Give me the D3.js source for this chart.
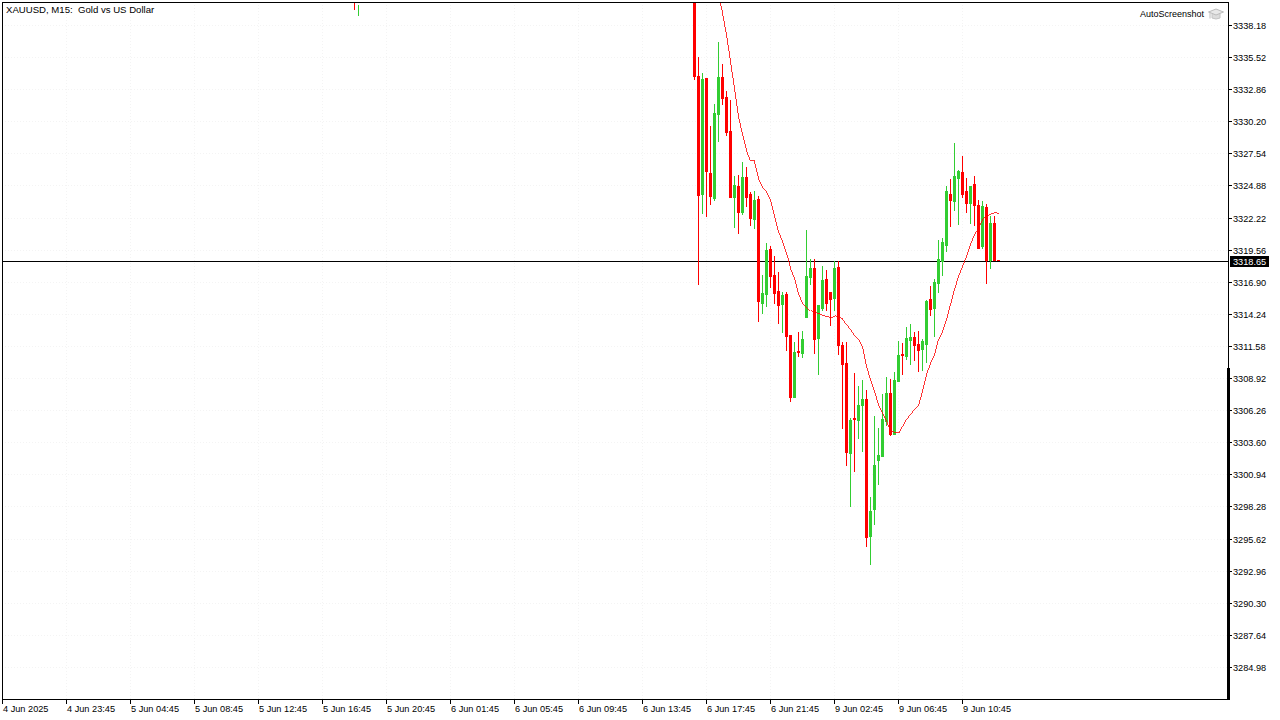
<!DOCTYPE html>
<html>
<head>
<meta charset="utf-8">
<script src="https://cdn.jsdelivr.net/npm/d3@7"></script>
<style>
  html, body { margin: 0; padding: 0; background: #fff; }
  text { font-family: "Liberation Sans", sans-serif; font-size: 9.2px; fill: #000; }
</style>
</head>
<body>
<div id="chart"></div>
<script>
const priceTicks = [3338.18, 3335.52, 3332.86, 3330.20, 3327.54, 3324.88, 3322.22, 3319.56, 3316.90, 3314.24, 3311.58,
    3308.92, 3306.26, 3303.60, 3300.94, 3298.28, 3295.62, 3292.96, 3290.30, 3287.64, 3284.98];

const timeLabels = ["4 Jun 2025", "4 Jun 23:45", "5 Jun 04:45", "5 Jun 08:45", "5 Jun 12:45", "5 Jun 16:45", "5 Jun 20:45",
    "6 Jun 01:45", "6 Jun 05:45", "6 Jun 09:45", "6 Jun 13:45", "6 Jun 17:45", "6 Jun 21:45", "9 Jun 02:45", "9 Jun 06:45", "9 Jun 10:45"];

const lastPrice = 3318.65;

// bar numbers, counted from the left edge of the window
const barIndex = [88, 89].concat(d3.range(173, 250));

const opens = [3341.00, 3339.00,
    3342.50, 3333.95, 3324.18, 3333.79, 3325.92, 3323.84, 3330.80, 3333.87, 3332.21, 3329.40,
    3323.93, 3324.84, 3322.68, 3325.58, 3324.18, 3322.10, 3323.76, 3315.14, 3315.89, 3319.62,
    3317.46, 3316.14, 3315.06, 3315.89, 3312.49, 3307.35, 3311.17, 3311.00, 3313.98, 3317.30,
    3318.04, 3312.24, 3314.73, 3317.13, 3316.05, 3315.56, 3318.13, 3311.66, 3310.17, 3302.72,
    3305.61, 3305.45, 3306.69, 3307.19, 3295.84, 3298.07, 3302.13, 3302.47, 3305.37, 3307.69,
    3304.29, 3308.68, 3310.92, 3310.75, 3312.08, 3312.33, 3311.75, 3311.33, 3311.75, 3315.48,
    3314.73, 3316.80, 3318.62, 3319.95, 3324.18, 3323.60, 3325.50, 3326.00, 3324.42, 3323.43,
    3325.00, 3323.26, 3319.87, 3323.10, 3318.71, 3321.77, 3318.71];

const highs = [3342.00, 3339.84,
    3343.00, 3335.53, 3334.20, 3333.79, 3329.81, 3331.63, 3336.77, 3334.95, 3332.71, 3331.96,
    3325.67, 3325.75, 3326.83, 3326.41, 3324.34, 3324.42, 3324.01, 3317.46, 3320.12, 3319.87,
    3319.04, 3317.71, 3316.05, 3316.05, 3312.49, 3311.91, 3312.74, 3312.82, 3321.19, 3318.79,
    3318.79, 3314.98, 3318.21, 3317.88, 3316.05, 3318.62, 3318.62, 3311.91, 3311.91, 3305.61,
    3309.34, 3308.27, 3308.76, 3307.93, 3299.07, 3305.78, 3304.79, 3307.60, 3309.01, 3308.85,
    3309.43, 3312.00, 3311.83, 3313.15, 3313.40, 3312.74, 3312.82, 3312.16, 3315.39, 3316.55,
    3317.13, 3320.36, 3320.53, 3324.84, 3325.42, 3328.40, 3326.16, 3327.32, 3325.50, 3324.84,
    3325.67, 3323.68, 3323.60, 3323.35, 3322.35, 3322.35, 3318.71];

const lows = [3339.50, 3339.00,
    3333.70, 3316.72, 3322.60, 3322.35, 3323.35, 3323.68, 3328.57, 3331.63, 3329.06, 3323.93,
    3321.44, 3320.94, 3322.52, 3323.18, 3321.61, 3321.36, 3313.65, 3314.32, 3314.89, 3316.47,
    3315.14, 3313.49, 3312.74, 3311.25, 3307.02, 3307.35, 3310.75, 3310.67, 3313.98, 3316.72,
    3311.00, 3309.26, 3314.56, 3314.56, 3313.32, 3314.56, 3310.92, 3304.79, 3301.72, 3298.32,
    3301.22, 3303.96, 3302.88, 3295.01, 3293.52, 3296.83, 3300.15, 3302.47, 3305.03, 3304.21,
    3304.29, 3308.68, 3309.26, 3310.50, 3310.09, 3310.42, 3309.51, 3309.59, 3310.25, 3314.15,
    3312.41, 3316.05, 3317.46, 3319.45, 3321.52, 3322.85, 3321.69, 3323.93, 3322.68, 3321.77,
    3321.61, 3319.70, 3319.70, 3316.80, 3318.04, 3318.71, 3318.71];

const closes = [3339.50, 3339.84,
    3333.95, 3324.09, 3333.70, 3326.08, 3324.01, 3330.89, 3333.87, 3332.13, 3329.31, 3323.93,
    3324.92, 3322.68, 3325.58, 3323.93, 3322.19, 3323.68, 3315.31, 3315.97, 3319.53, 3317.38,
    3315.97, 3314.98, 3315.81, 3312.41, 3307.35, 3311.08, 3311.08, 3312.16, 3317.38, 3318.04,
    3312.16, 3314.98, 3317.05, 3315.14, 3315.48, 3318.04, 3311.66, 3310.09, 3302.80, 3305.45,
    3305.53, 3306.69, 3307.19, 3295.75, 3297.91, 3301.72, 3302.55, 3305.53, 3307.69, 3304.29,
    3308.76, 3310.83, 3310.83, 3312.24, 3312.33, 3311.66, 3311.25, 3311.99, 3315.31, 3314.65,
    3316.88, 3318.79, 3320.20, 3324.42, 3323.68, 3325.67, 3326.08, 3324.18, 3323.43, 3324.84,
    3323.26, 3319.70, 3323.18, 3318.71, 3321.77, 3318.71, 3318.71];

// moving average, starts just above the top edge
const maStart = 179;
const maValues = [3340.58, 3339.26, 3337.52, 3335.28, 3333.04, 3330.72, 3329.23, 3327.90, 3326.99, 3326.99, 3325.58,
    3324.84, 3324.51, 3323.76, 3322.44, 3321.19, 3320.36, 3319.37, 3318.13, 3317.30, 3316.05,
    3315.23, 3314.89, 3314.56, 3314.40, 3314.32, 3314.15, 3314.07, 3313.98, 3314.15, 3313.98,
    3313.90, 3313.49, 3313.07, 3312.58, 3312.24, 3311.66, 3310.01, 3308.93, 3307.93, 3306.86,
    3306.11, 3305.53, 3304.62, 3304.46, 3304.46, 3305.03, 3305.61, 3306.03, 3306.44, 3306.78,
    3307.93, 3309.34, 3310.25, 3311.00, 3312.24, 3312.91, 3313.90, 3315.14, 3316.39, 3317.46,
    3318.29, 3319.12, 3320.11, 3320.94, 3321.44, 3322.19, 3322.44, 3322.60, 3322.68, 3322.60];

const width = 1280;
const height = 720;
const left = 2;
const right = 1228;
const top_ = 2;
const bottom = 699;
const upColor = "#32cd32";
const downColor = "#ff0000";
const gridColor = "#f4f4f4";

const y = d3.scaleLinear().domain([3284.98, 3338.18]).range([667, 25]);
const x = d3.scaleLinear().domain([0, 16]).range([2, 66]);
const py = v => Math.round(y(v));

const svg = d3.select("#chart").append("svg")
    .attr("width", width)
    .attr("height", height)
    .style("display", "block")
    .attr("shape-rendering", "crispEdges");

svg.append("defs").append("clipPath").attr("id", "plot")
    .append("rect")
    .attr("x", left).attr("y", top_)
    .attr("width", right - left).attr("height", bottom - top_);

// dotted grid
priceTicks.forEach(function(p) {
    svg.append("line")
        .attr("x1", left).attr("x2", right)
        .attr("y1", py(p) + 0.5).attr("y2", py(p) + 0.5)
        .attr("stroke", gridColor)
        .attr("stroke-dasharray", "1,2");
});
timeLabels.forEach(function(t, i) {
    if (i === 0) return;
    svg.append("line")
        .attr("x1", x(i * 16) + 0.5).attr("x2", x(i * 16) + 0.5)
        .attr("y1", top_).attr("y2", bottom)
        .attr("stroke", gridColor)
        .attr("stroke-dasharray", "1,2");
});

// last price line, goes under the candles
svg.append("line")
    .attr("x1", left).attr("x2", right)
    .attr("y1", py(lastPrice) + 0.5).attr("y2", py(lastPrice) + 0.5)
    .attr("stroke", "#000");

const plot = svg.append("g").attr("clip-path", "url(#plot)");

// wicks and bodies
barIndex.forEach(function(b, i) {
    const up = closes[i] > opens[i];
    const color = up ? upColor : downColor;
    const cx = x(b);
    plot.append("rect")
        .attr("x", cx)
        .attr("y", py(highs[i]))
        .attr("width", 1)
        .attr("height", py(lows[i]) - py(highs[i]) + 1)
        .attr("fill", color);
    if (i < 2) return; // only the wick shows for the two bars at the top edge
    const bodyTop = py(Math.max(opens[i], closes[i]));
    const bodyBottom = py(Math.min(opens[i], closes[i]));
    plot.append("rect")
        .attr("x", cx - 1)
        .attr("y", bodyTop)
        .attr("width", 3)
        .attr("height", bodyBottom - bodyTop + 1)
        .attr("fill", color);
});

// moving average
const maLine = d3.line()
    .x((d, i) => x(maStart + i) + 0.5)
    .y(d => py(d) + 0.5);

plot.append("path")
    .attr("d", maLine(maValues))
    .attr("fill", "none")
    .attr("stroke", downColor)
    .attr("stroke-width", 0.8);

// frame
svg.append("rect").attr("x", left).attr("y", top_).attr("width", 1).attr("height", bottom - top_).attr("fill", "#000");
svg.append("rect").attr("x", left).attr("y", top_).attr("width", right - left).attr("height", 1).attr("fill", "#000");
svg.append("rect").attr("x", left).attr("y", bottom).attr("width", right - left + 2).attr("height", 1).attr("fill", "#000");
svg.append("rect").attr("x", right).attr("y", top_).attr("width", 1).attr("height", bottom - top_ + 1).attr("fill", "#000");
svg.append("rect").attr("x", right - 1).attr("y", 368).attr("width", 3).attr("height", bottom - 368 + 1).attr("fill", "#000");

// price axis
priceTicks.forEach(function(p) {
    svg.append("rect")
        .attr("x", right + 1).attr("y", py(p)).attr("width", 3).attr("height", 1).attr("fill", "#000");
    svg.append("text")
        .attr("x", 1233)
        .attr("y", py(p) + 3.5)
        .text(p.toFixed(2));
});

// last price tag
svg.append("rect")
    .attr("x", 1230).attr("y", py(lastPrice) - 5)
    .attr("width", 39).attr("height", 11)
    .attr("fill", "#000");
svg.append("text")
    .attr("x", 1233)
    .attr("y", py(lastPrice) + 4)
    .style("fill", "#fff")
    .text(lastPrice.toFixed(2));

// time axis
timeLabels.forEach(function(t, i) {
    svg.append("rect")
        .attr("x", x(i * 16)).attr("y", bottom).attr("width", 1).attr("height", 5).attr("fill", "#000");
    svg.append("text")
        .attr("x", x(i * 16) + 1)
        .attr("y", 712)
        .text(t);
});

// title and watermark
svg.append("text").attr("x", 6).attr("y", 13)
    .style("font-size", "9.6px")
    .style("white-space", "pre")
    .text("XAUUSD, M15:  Gold vs US Dollar");
svg.append("text").attr("x", 1204).attr("y", 17)
    .style("font-size", "9px")
    .attr("text-anchor", "end")
    .text("AutoScreenshot");

// little hat next to the watermark
const hat = svg.append("g").attr("shape-rendering", "auto").attr("transform", "translate(1208.5,8.5)");
hat.append("path").attr("d", "M3.5,5 V9.5 Q7.5,11.5 11.5,9.5 V5 Z").attr("fill", "#dcdcdc").attr("stroke", "#c4c4c4");
hat.append("path").attr("d", "M0,3.5 L7.5,0.5 L15,3.5 L7.5,6.5 Z").attr("fill", "#e8e8e8").attr("stroke", "#bcbcbc");
hat.append("path").attr("d", "M1.5,4 V10").attr("stroke", "#bcbcbc").attr("fill", "none");
</script>
</body>
</html>
